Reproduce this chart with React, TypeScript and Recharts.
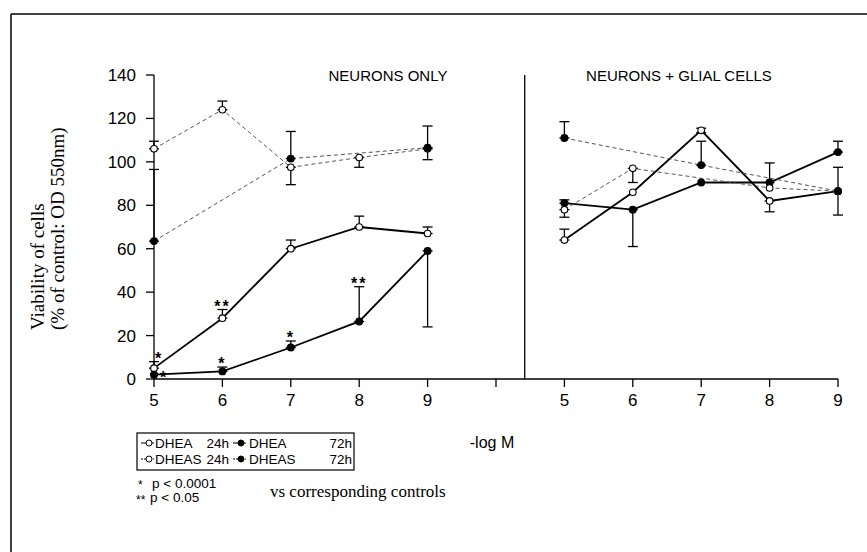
import { ComposedChart, Line, Scatter, XAxis, YAxis, ErrorBar, ReferenceLine } from "recharts";

// doses (-log M), same for both panels
const DOSES = [5, 6, 7, 8, 9];
const Y_TICKS = [0, 20, 40, 60, 80, 100, 120, 140];

// errors are [down, up]
// neurons only
const N_DHEA_24 = [5, 28, 60, 70, 67];
const N_DHEA_24_ERR = [[0, 3], [0, 4], [0, 4], [0, 5], [0, 3]];
const N_DHEA_24_SIG = ["*", "**", "", "", ""];
const N_DHEA_72 = [2, 3.5, 14.5, 26.5, 59];
const N_DHEA_72_ERR = [null, [0, 2], [0, 3], [0, 16], [35, 0]];
const N_DHEA_72_SIG = ["*", "*", "*", "**", ""];
const N_DHEAS_24 = [106, 124, 97.5, 102, 106];
const N_DHEAS_24_ERR = [[0, 3.5], [0, 4], [8, 0], [4.5, 0], [5, 0]];
const N_DHEAS_72 = [63.5, null, 101.5, null, 106.5];
const N_DHEAS_72_ERR = [[0, 33], null, [0, 12.5], null, [0, 10]];

// neurons + glial cells
const G_DHEA_24 = [64, 86, 114.5, 82, 86.5];
const G_DHEA_24_ERR = [[0, 5], null, [1, 1], [5, 0], null];
const G_DHEA_72 = [81, 78, 90.5, 90.5, 104.5];
const G_DHEA_72_ERR = [[0, 1.5], [17, 0], null, [0, 9], [0, 5]];
const G_DHEAS_24 = [78, 97, null, 88, 86.5];
const G_DHEAS_24_ERR = [[3.5, 0], [6.5, 0], null, null, null];
const G_DHEAS_72 = [111, null, 98.5, null, 86.5];
const G_DHEAS_72_ERR = [[0, 7.5], null, [0, 11], null, [11, 11]];

const KINDS: any = {
  "DHEA 24h": { dashed: false, filled: false },
  "DHEA 72h": { dashed: false, filled: true },
  "DHEAS 24h": { dashed: true, filled: false },
  "DHEAS 72h": { dashed: true, filled: true },
};

const SERIES = [
  { id: "n1", panel: 0, kind: "DHEA 24h", values: N_DHEA_24, errs: N_DHEA_24_ERR, sig: N_DHEA_24_SIG },
  { id: "n2", panel: 0, kind: "DHEA 72h", values: N_DHEA_72, errs: N_DHEA_72_ERR, sig: N_DHEA_72_SIG },
  { id: "n3", panel: 0, kind: "DHEAS 24h", values: N_DHEAS_24, errs: N_DHEAS_24_ERR },
  { id: "n4", panel: 0, kind: "DHEAS 72h", values: N_DHEAS_72, errs: N_DHEAS_72_ERR },
  { id: "g1", panel: 1, kind: "DHEA 24h", values: G_DHEA_24, errs: G_DHEA_24_ERR },
  { id: "g2", panel: 1, kind: "DHEA 72h", values: G_DHEA_72, errs: G_DHEA_72_ERR },
  { id: "g3", panel: 1, kind: "DHEAS 24h", values: G_DHEAS_24, errs: G_DHEAS_24_ERR },
  { id: "g4", panel: 1, kind: "DHEAS 72h", values: G_DHEAS_72, errs: G_DHEAS_72_ERR },
];

// right panel sits 6 units further along the shared x axis
const PANEL_SHIFT = 6;
const DIVIDER_X = 10.42;
const X_TICKS = [5, 6, 7, 8, 9, 10, 11, 12, 13, 14, 15];

const rowsFor = (s: any) =>
  DOSES.map((d, i) => ({ x: d + s.panel * PANEL_SHIFT, v: s.values[i], err: s.errs[i] ?? undefined }));

const STAR_ROWS: any[] = [];
SERIES.forEach((s: any) => {
  if (!s.sig) return;
  s.sig.forEach((t: string, i: number) => {
    if (!t) return;
    const up = s.errs[i] ? s.errs[i][1] : 0;
    STAR_ROWS.push({ x: DOSES[i] + s.panel * PANEL_SHIFT, y: s.values[i] + up, t, first: i === 0, low: s.kind === "DHEA 72h" });
  });
});

const FONT = "'Liberation Sans', Arial, Helvetica, sans-serif";
const SERIF = "'Liberation Serif', 'Times New Roman', serif";

const makeDot = (filled: boolean) => (p: any) => {
  if (p.cx == null || p.cy == null || p.value == null) return <g key={`d-${p.index}`} />;
  return (
    <circle key={`d-${p.index}`} cx={p.cx} cy={p.cy} r={filled ? 3.4 : 3.3}
      fill={filled ? "#000" : "#fff"} stroke="#000" strokeWidth={1.1} />
  );
};

const starShape = (p: any) => {
  const pl = p.payload;
  let dx = 0, dy = 0;
  if (pl.first) { dx = pl.low ? 10 : 5; dy = pl.low ? 6 : 0; }
  return (
    <text x={p.cx + dx} y={p.cy - 7 + 9 + dy} textAnchor="middle" fontSize={16} fontWeight="bold"
      letterSpacing={2} fontFamily={FONT} fill="#000">{pl.t}</text>
  );
};

const xTickFmt = (v: number) => (v < 10 ? String(v) : v === 10 ? "" : String(v - PANEL_SHIFT));

function LegendMarker({ x, y, kind }: any) {
  const k = KINDS[kind];
  return (
    <g>
      <line x1={x} y1={y} x2={x + 13} y2={y} stroke="#000" strokeWidth={1} strokeDasharray={k.dashed ? "2 1" : undefined} />
      <circle cx={x + 8} cy={y} r={3} fill={k.filled ? "#000" : "#fff"} stroke="#000" strokeWidth={1} />
    </g>
  );
}

function Overlay() {
  const rows = [
    { y: 443, a: "DHEA 24h", b: "DHEA 72h" },
    { y: 459, a: "DHEAS 24h", b: "DHEAS 72h" },
  ];
  return (
    <svg width={867} height={552} style={{ position: "absolute", left: 0, top: 0, pointerEvents: "none" }}>
      <line x1={11} y1={14} x2={867} y2={14} stroke="#000" strokeWidth={1.5} />
      <line x1={11} y1={14} x2={11} y2={552} stroke="#000" strokeWidth={1.5} />

      <text x={388} y={81} textAnchor="middle" fontSize={15} fontFamily={FONT} fill="#000">NEURONS  ONLY</text>
      <text x={679} y={81} textAnchor="middle" fontSize={15} fontFamily={FONT} fill="#000">NEURONS + GLIAL CELLS</text>

      <text transform="translate(44,330) rotate(-90)" fontSize={19} fontFamily={SERIF} fill="#000">Viability of cells</text>
      <text transform="translate(64,330) rotate(-90)" fontSize={19} fontFamily={SERIF} fill="#000">(% of control: OD 550nm)</text>

      <text x={492} y={448} textAnchor="middle" fontSize={16} fontFamily={FONT} fill="#000">-log M</text>

      <rect x={137} y={433} width={217} height={37} fill="none" stroke="#000" strokeWidth={1.2} />
      {rows.map((r) => (
        <g key={r.a}>
          <LegendMarker x={141} y={r.y} kind={r.a} />
          <text x={155} y={r.y + 5} fontSize={13.5} fontFamily={FONT} fill="#000">{r.a.split(" ")[0]}</text>
          <text x={229} y={r.y + 5} textAnchor="end" fontSize={13.5} fontFamily={FONT} fill="#000">{r.a.split(" ")[1]}</text>
          <LegendMarker x={233} y={r.y} kind={r.b} />
          <text x={249} y={r.y + 5} fontSize={13.5} fontFamily={FONT} fill="#000">{r.b.split(" ")[0]}</text>
          <text x={352} y={r.y + 5} textAnchor="end" fontSize={13.5} fontFamily={FONT} fill="#000">{r.b.split(" ")[1]}</text>
        </g>
      ))}

      <text x={138} y={489} fontSize={12} fontFamily={FONT} fill="#000">*</text>
      <text x={152} y={488} fontSize={13.5} fontFamily={FONT} fill="#000">p &lt; 0.0001</text>
      <text x={136} y={504} fontSize={12} fontFamily={FONT} fill="#000">**</text>
      <text x={150} y={502} fontSize={13.5} fontFamily={FONT} fill="#000">p &lt; 0.05</text>
      <text x={270} y={497} fontSize={17} fontFamily={SERIF} fill="#000">vs corresponding controls</text>
    </svg>
  );
}

export default function App() {
  const tick = { fontSize: 17, fontFamily: FONT, fill: "#000" };
  return (
    <div style={{ position: "absolute", left: 0, top: 0, width: 867, height: 552, background: "#fff" }}>
      <ComposedChart width={867} height={552} margin={{ top: 75, right: 29, bottom: 143, left: 94 }}>
        <XAxis dataKey="x" type="number" domain={[5, 15]} ticks={X_TICKS} tickFormatter={xTickFmt}
          allowDuplicatedCategory={false} height={30} tickSize={8} tickMargin={7}
          stroke="#000" strokeWidth={1.3} tick={tick} interval={0} />
        <YAxis type="number" domain={[0, 140]} ticks={Y_TICKS} width={60} tickSize={8} tickMargin={10}
          stroke="#000" strokeWidth={1.3} tick={tick} interval={0} />
        <ReferenceLine x={DIVIDER_X} stroke="#000" strokeWidth={1.3} />
        {SERIES.map((s: any) => {
          const k = KINDS[s.kind];
          return (
            <Line key={s.id} data={rowsFor(s)} dataKey="v" type="linear"
              stroke={k.dashed ? "#555" : "#000"} strokeWidth={k.dashed ? 1 : 1.8}
              strokeDasharray={k.dashed ? "4 3" : undefined} connectNulls
              dot={makeDot(k.filled)} activeDot={false} isAnimationActive={false} legendType="none">
              <ErrorBar dataKey="err" direction="y" width={5} stroke="#000" strokeWidth={1.3} />
            </Line>
          );
        })}
        <Scatter data={STAR_ROWS} dataKey="y" shape={starShape} isAnimationActive={false} legendType="none" />
      </ComposedChart>
      <Overlay />
    </div>
  );
}
